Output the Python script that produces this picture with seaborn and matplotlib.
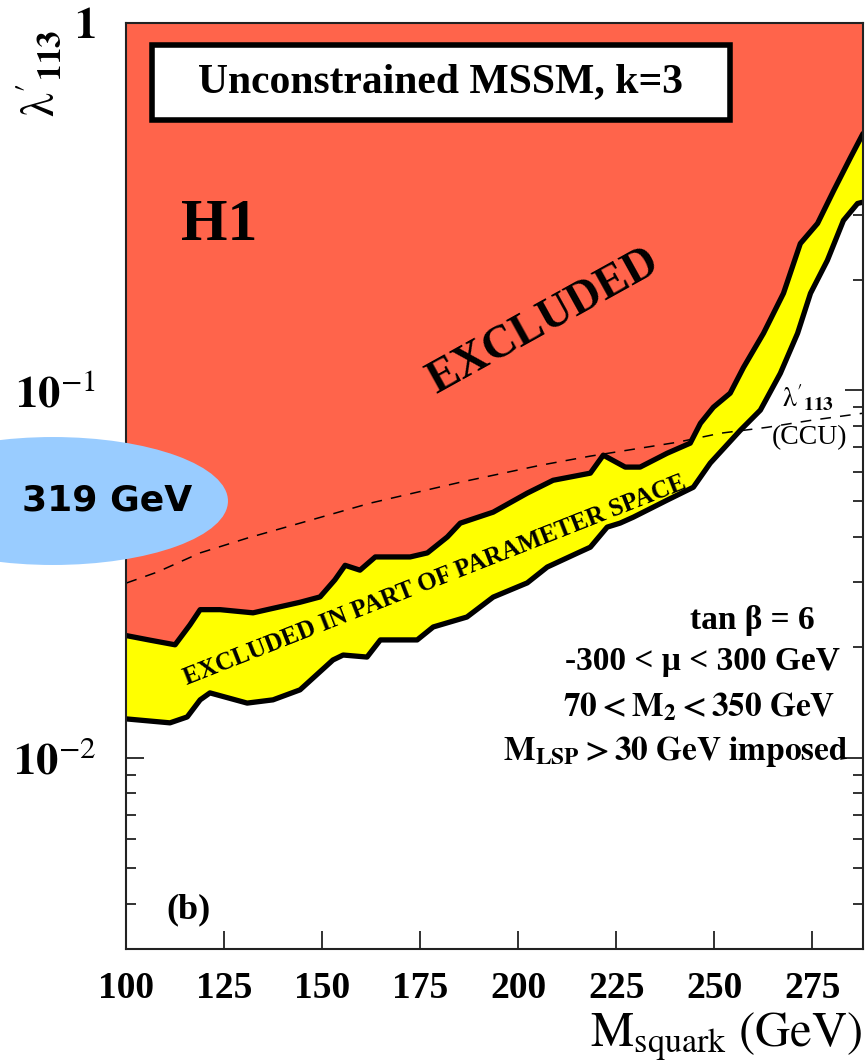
import numpy as np
import matplotlib
matplotlib.use("Agg")
import matplotlib.pyplot as plt
import seaborn as sns
from matplotlib.patches import Ellipse, Rectangle
from matplotlib.ticker import LogLocator, NullFormatter, NullLocator

# Upper edge of the excluded band (H1 full exclusion limit)
mass_full = [100, 106, 112.4, 116.2, 118.8, 123.9, 132.3, 135.9, 144.3, 149.4, 153.2,
             155.8, 159.6, 163.5, 172.4, 176.8, 181.9, 185.2, 193.6, 202.3, 208.9,
             218.4, 221.7, 227.3, 231.1, 238.0, 243.9, 246.5, 249.8, 254.1, 257.5,
             262.6, 267.7, 272.0, 276.4, 280.5, 284.8, 288]
lambda_full = [0.0215, 0.0209, 0.0203, 0.0230, 0.0253, 0.0253, 0.0248, 0.0253, 0.0265,
               0.0274, 0.0305, 0.0334, 0.0324, 0.0352, 0.0352, 0.0361, 0.0399, 0.0435,
               0.0466, 0.0525, 0.0569, 0.0595, 0.0666, 0.0618, 0.0618, 0.0674, 0.0718,
               0.0813, 0.0899, 0.0982, 0.1154, 0.1429, 0.1836, 0.2507, 0.2844, 0.3491,
               0.4296, 0.4993]

# Lower edge: excluded in part of the parameter space
mass_part = [100, 111.1, 115.5, 118.8, 121.3, 130.8, 137.4, 144.3, 152.7, 155.3, 161.4,
             164.8, 174.2, 178.3, 186.9, 193.6, 202.3, 207.4, 215.1, 218.4, 222.7, 226.0,
             229.4, 238.0, 244.7, 249.0, 256.7, 261.8, 266.9, 271.3, 274.6, 278.9, 283.0,
             286.6, 288]
lambda_part = [0.01276, 0.01245, 0.01292, 0.01438, 0.01502, 0.01409, 0.01438, 0.01531,
               0.01846, 0.01904, 0.01880, 0.02093, 0.02093, 0.02270, 0.02416, 0.02737,
               0.02992, 0.03304, 0.03606, 0.03742, 0.04243, 0.04351, 0.04517, 0.05024,
               0.05448, 0.06335, 0.07786, 0.08830, 0.1112, 0.1429, 0.1836, 0.2256,
               0.2897, 0.3222, 0.325]

# Charge/colour-breaking (CCU) bound
mass_ccu = [100, 107.8, 118.8, 130.8, 144.3, 162.2, 173.2, 185.2, 205.6, 218.4, 240.6,
            251.6, 263.6, 274.6, 288]
lambda_ccu = [0.0299, 0.0320, 0.0361, 0.0396, 0.0435, 0.0493, 0.0525, 0.0562, 0.0625,
              0.0662, 0.0722, 0.0764, 0.0793, 0.0828, 0.0866]

x_ticks = [100, 125, 150, 175, 200, 225, 250, 275]
y_ticks = [0.01, 0.1, 1]
y_tick_labels = [r"$\mathbf{10}^{-2}$", r"$\mathbf{10}^{-1}$", r"$\mathbf{1}$"]

RED = "#ff644b"
YELLOW = "#ffff00"

sns.set_theme(style="ticks")
plt.rcParams["font.family"] = ["Liberation Serif", "DejaVu Serif"]
plt.rcParams["mathtext.fontset"] = "stix"
plt.rcParams["text.color"] = "black"
plt.rcParams["xtick.color"] = "black"
plt.rcParams["ytick.color"] = "black"
plt.rcParams["axes.labelcolor"] = "black"

fig = plt.figure(figsize=(8.67, 10.61), dpi=100)
ax = fig.add_axes([0.1459, 0.1056, 0.8495, 0.8730])
ax.set_yscale("log")
ax.set_xlim(100, 288)
ax.set_ylim(10 ** -2.52, 1)

# Filled regions
ax.fill(np.r_[mass_full, 288, 100], np.r_[lambda_full, 1, 1], color=RED, lw=0, zorder=1)
ax.fill(np.r_[mass_full, mass_part[::-1]], np.r_[lambda_full, lambda_part[::-1]],
        color=YELLOW, lw=0, zorder=1)

# Boundary curves
sns.lineplot(x=mass_full, y=lambda_full, color="black", linewidth=3.8, sort=False,
             estimator=None, ax=ax, zorder=3)
sns.lineplot(x=mass_part, y=lambda_part, color="black", linewidth=3.8, sort=False,
             estimator=None, ax=ax, zorder=3)
sns.lineplot(x=mass_ccu, y=lambda_ccu, color="black", linewidth=1.1, sort=False,
             estimator=None, ax=ax, zorder=4, linestyle=(0, (7, 6)))

# Axes styling
for s in ax.spines.values():
    s.set_linewidth(1.5)
    s.set_color("#222222")
    s.set_zorder(6)

ax.set_xticks(x_ticks)
ax.set_xticklabels([str(v) for v in x_ticks], fontweight="bold", fontsize=27)
ax.xaxis.set_minor_locator(NullLocator())
ax.set_yticks(y_ticks)
ax.set_yticklabels(y_tick_labels, fontsize=32)
ax.yaxis.set_minor_locator(LogLocator(base=10, subs=np.arange(2, 10)))
ax.yaxis.set_minor_formatter(NullFormatter())
ax.tick_params(axis="both", which="major", direction="in", length=13, width=1.3,
               top=True, right=True, color="#222222", labelcolor="black")
ax.tick_params(axis="both", which="minor", direction="in", length=7, width=1.3,
               top=True, right=True, color="#222222")
ax.tick_params(axis="x", pad=16)
ax.tick_params(axis="y", pad=22)
ax.set_xlabel("")
ax.set_ylabel("")

# Title box
ax.add_patch(Rectangle((0.0348, 0.895), 0.784, 0.081, transform=ax.transAxes,
                       facecolor="white", edgecolor="black", lw=4, zorder=7))
ax.text(0.426, 0.936, "Unconstrained MSSM, k=3", transform=ax.transAxes, ha="center",
        va="center", fontsize=30, fontweight="bold", zorder=8)

ax.text(0.126, 0.781, "H1", transform=ax.transAxes, ha="center", va="center",
        fontsize=43, fontweight="bold", zorder=8)
ax.text(0.5665, 0.6769, "EXCLUDED", transform=ax.transAxes, ha="center", va="center",
        fontsize=33, fontweight="bold", rotation=29, rotation_mode="anchor", zorder=8)
ax.text(0.418, 0.398, "EXCLUDED IN PART OF PARAMETER SPACE", transform=ax.transAxes,
        ha="center", va="center", fontsize=18, fontweight="bold", rotation=21.5,
        rotation_mode="anchor", zorder=8)

# Parameter annotations
ax.text(0.850, 0.355, "tan β = 6", transform=ax.transAxes,
        ha="center", va="center", fontsize=24, fontweight="bold", zorder=8)
ax.text(0.782, 0.310, "-300 < μ < 300 GeV", transform=ax.transAxes,
        ha="center", va="center", fontsize=24, fontweight="bold", zorder=8)
ax.text(0.778, 0.261, r"$\mathbf{70 < M_2 < 350\ GeV}$", transform=ax.transAxes,
        ha="center", va="center", fontsize=24, zorder=8)
ax.text(0.746, 0.2127, r"$\mathbf{M_{LSP} > 30\ GeV\ imposed}$", transform=ax.transAxes,
        ha="center", va="center", fontsize=24, zorder=8)
ax.text(0.084, 0.042, "(b)", transform=ax.transAxes, ha="center", va="center",
        fontsize=26, fontweight="bold", zorder=8)

# CCU curve label
ax.text(0.925, 0.595, r"$\mathrm{\lambda}'_{\mathbf{113}}$", transform=ax.transAxes,
        ha="center", va="center", fontsize=20, zorder=8)
ax.text(0.928, 0.5517, "(CCU)", transform=ax.transAxes, ha="center", va="center",
        fontsize=20, zorder=8)

# Axis titles
fig.text(0.046, 0.931, r"$\mathrm{\lambda}'_{\mathbf{113}}$", rotation=90, ha="center",
         va="center", fontsize=34)
fig.text(0.995, 0.0141, r"$\mathrm{M}_{\mathrm{squark}}\ \mathrm{(GeV)}$", ha="right",
         va="baseline", fontsize=35)

# Highlight bubble
fig.add_artist(Ellipse((0.0611, 0.5278), 0.4037, 0.1206, transform=fig.transFigure,
                       facecolor="#99ccff", edgecolor="none", zorder=10))
fig.text(0.1234, 0.5287, "319 GeV", ha="center", va="center", fontsize=26,
         fontweight="bold", family="DejaVu Sans", color="black", zorder=11)

fig.savefig("out.png", dpi=100)
